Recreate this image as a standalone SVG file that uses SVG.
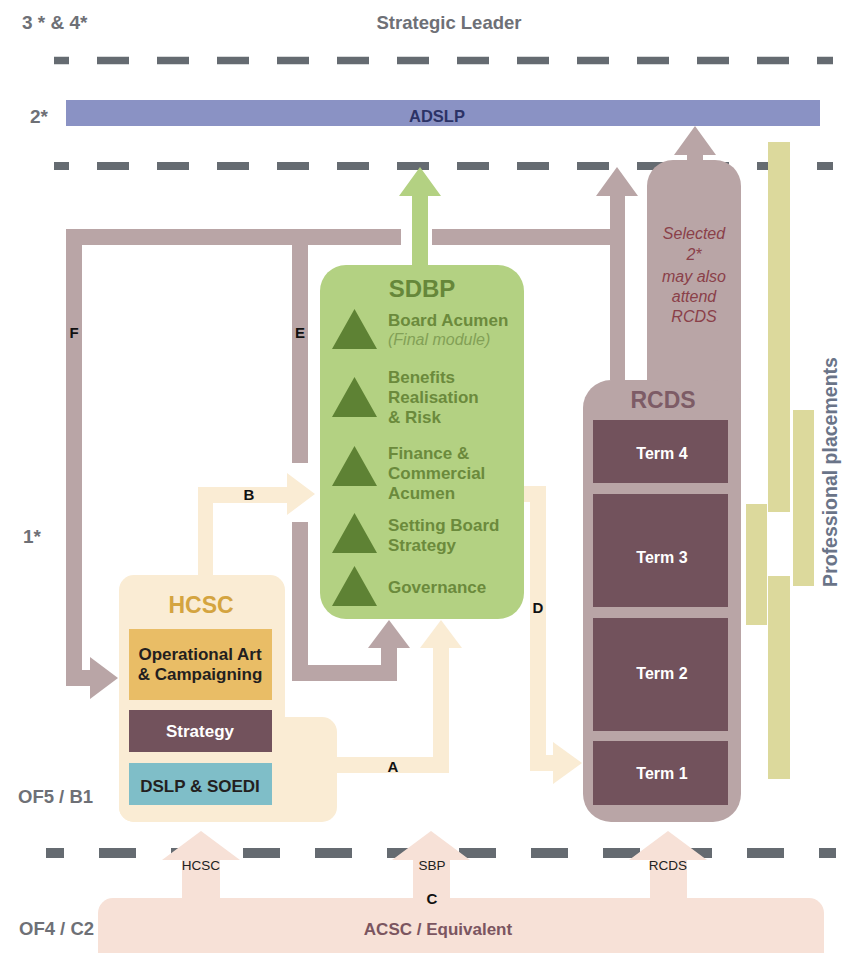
<svg xmlns="http://www.w3.org/2000/svg" width="842" height="953" viewBox="0 0 842 953">
<style>
text{font-family:"Liberation Sans",Arial,sans-serif;}
.b{font-weight:bold;}
.gray{fill:#6e7076;font-weight:bold;}
.dash{fill:none;stroke:#656b71;}
.mv{fill:#b9a5a6;}
.cr{fill:#faecd4;}
.pe{fill:#f7e1d7;}
.gr{fill:#b3d182;}
.tri{fill:#5e8234;}
.sd{fill:#6b8a3c;font-weight:bold;font-size:17px;}
.term{fill:#72525c;}
.tt{fill:#ffffff;font-weight:bold;font-size:16px;text-anchor:middle;}
.yb{fill:#dcd99c;}
.let{fill:#111;font-weight:bold;font-size:15px;text-anchor:middle;}
.bl{fill:#222;font-size:13.5px;text-anchor:middle;}
</style>

<!-- level labels -->
<g id="levels">
<text class="gray" x="22" y="29" font-size="19">3 * &amp; 4*</text>
<text class="gray" x="449" y="29" font-size="18.5" text-anchor="middle">Strategic Leader</text>
<text class="gray" x="30" y="123" font-size="19">2*</text>
<text class="gray" x="23" y="543" font-size="19" fill="#6a7080">1*</text>
<text class="gray" x="18" y="803" font-size="18.5">OF5 / B1</text>
<text class="gray" x="19" y="935" font-size="18.5">OF4 / C2</text>
</g>

<!-- dashed level lines -->
<g id="dividers">
<line class="dash" x1="54" y1="60.5" x2="833" y2="60.5" stroke-width="7.5" stroke-dasharray="32 28" stroke-dashoffset="17"/>
<line class="dash" x1="54" y1="166" x2="833" y2="166" stroke-width="8" stroke-dasharray="32 28" stroke-dashoffset="17"/>
<line class="dash" x1="46" y1="853" x2="836" y2="853" stroke-width="10" stroke-dasharray="37 35" stroke-dashoffset="19"/>
</g>

<g id="ADSLP">
<rect x="66" y="100" width="754" height="26" fill="#8a92c4"/>
<text x="437" y="122" font-size="16.5" class="b" fill="#2c3366" text-anchor="middle">ADSLP</text>
</g>

<g id="placements">
<rect class="yb" x="768" y="142" width="22" height="370"/>
<rect class="yb" x="793" y="410" width="21" height="176"/>
<rect class="yb" x="746" y="504" width="21" height="121"/>
<rect class="yb" x="768" y="576" width="22" height="203"/>
<text transform="translate(837,472) rotate(-90)" font-size="19.5" class="b" fill="#6a7488" text-anchor="middle">Professional placements</text>
</g>

<!-- connectors -->
<g id="connectors">
<!-- mauve network -->
<rect class="mv" x="66" y="229" width="335" height="16"/>
<rect class="mv" x="432" y="229" width="193" height="16"/>
<polygon class="mv" points="66,229 82,229 82,670 90,670 90,657 118,678 90,699 90,686 66,686"/>
<rect class="mv" x="292" y="229" width="16" height="234"/>
<polygon class="mv" points="292,522 308,522 308,665 381,665 381,648 368,648 389,620 410,648 397,648 397,681 292,681"/>
<polygon class="mv" points="610,380 610,196 596,196 617,167 638,196 625,196 625,380"/>
<polygon class="mv" points="687,165 687,155 674,155 695,126 716,155 703,155 703,165"/>
<!-- green to ADSLP -->
<polygon class="gr" points="412,270 412,196 399,196 420,167 441,196 428,196 428,270"/>
<!-- cream arrows -->
<polygon class="cr" points="198,578 198,487 287,487 287,473 315,494 287,515 287,503 213,503 213,578"/>
<polygon class="cr" points="330,757 433,757 433,648 420,648 441,620 462,648 449,648 449,773 330,773"/>
<polygon class="cr" points="518,486 546,486 546,755 553,755 553,742 582,763 553,784 553,771 530,771 530,502 518,502"/>
<!-- peach arrows from ACSC -->
<polygon class="pe" points="182,905 182,860 162,860 201,831 240,860 220,860 220,905"/>
<polygon class="pe" points="413,905 413,860 392,860 431,831 470,860 450,860 450,905"/>
<polygon class="pe" points="650,905 650,860 629,860 668,831 707,860 687,860 687,905"/>
<!-- connector labels -->
<text class="let" x="74" y="338">F</text>
<text class="let" x="300" y="338">E</text>
<text class="let" x="249" y="500">B</text>
<text class="let" x="393" y="772">A</text>
<text class="let" x="538" y="613">D</text>
</g>

<g id="SDBP">
<rect class="gr" x="320" y="265" width="204" height="354" rx="26"/>
<text x="422" y="297" font-size="24" class="b" fill="#66873a" text-anchor="middle">SDBP</text>
<polygon class="tri" points="332,349 354.5,309 377,349"/>
<polygon class="tri" points="332,417 354.5,377 377,417"/>
<polygon class="tri" points="332,486 354.5,446 377,486"/>
<polygon class="tri" points="332,553 354.5,513 377,553"/>
<polygon class="tri" points="332,606 354.5,566 377,606"/>
<text class="sd" x="388" y="326">Board Acumen</text>
<text x="388" y="345" font-size="16" font-style="italic" fill="#82a056">(Final module)</text>
<text class="sd" x="388" y="383">Benefits</text>
<text class="sd" x="388" y="403">Realisation</text>
<text class="sd" x="388" y="423">&amp; Risk</text>
<text class="sd" x="388" y="459">Finance &amp;</text>
<text class="sd" x="388" y="479">Commercial</text>
<text class="sd" x="388" y="499">Acumen</text>
<text class="sd" x="388" y="531">Setting Board</text>
<text class="sd" x="388" y="551">Strategy</text>
<text class="sd" x="388" y="593">Governance</text>
</g>

<g id="HCSC">
<rect class="cr" x="119" y="575" width="166" height="247" rx="15"/>
<rect class="cr" x="119" y="717" width="218" height="105" rx="15"/>
<text x="201" y="613" font-size="23" class="b" fill="#d4a440" text-anchor="middle">HCSC</text>
<rect x="129" y="629" width="143" height="71" fill="#e9bd66"/>
<text x="200" y="660" font-size="17" class="b" fill="#231f20" text-anchor="middle">Operational Art</text>
<text x="200" y="680" font-size="17" class="b" fill="#231f20" text-anchor="middle">&amp; Campaigning</text>
<rect x="129" y="710" width="143" height="42" fill="#72525c"/>
<text x="200" y="737" font-size="17" class="b" fill="#ffffff" text-anchor="middle">Strategy</text>
<rect x="129" y="763" width="143" height="42" fill="#7fbec8"/>
<text x="200" y="792" font-size="17" class="b" fill="#231f20" text-anchor="middle">DSLP &amp; SOEDI</text>
</g>

<g id="RCDS">
<rect class="mv" x="647" y="160" width="94" height="320" rx="26"/>
<rect class="mv" x="583" y="380" width="158" height="442" rx="28"/>
<g font-size="16" font-style="italic" fill="#8a4049" text-anchor="middle">
<text x="694" y="239">Selected</text>
<text x="694" y="260">2*</text>
<text x="694" y="282">may also</text>
<text x="694" y="302">attend</text>
<text x="694" y="322">RCDS</text>
</g>
<text x="663" y="408" font-size="23" class="b" fill="#7d5c66" text-anchor="middle">RCDS</text>
<rect class="term" x="593" y="420" width="135" height="63"/>
<rect class="term" x="593" y="494" width="135" height="113"/>
<rect class="term" x="593" y="618" width="135" height="113"/>
<rect class="term" x="593" y="741" width="135" height="64"/>
<text class="tt" x="662" y="459">Term 4</text>
<text class="tt" x="662" y="563">Term 3</text>
<text class="tt" x="662" y="679">Term 2</text>
<text class="tt" x="662" y="779">Term 1</text>
</g>

<g id="ACSC">
<rect class="pe" x="98" y="898" width="726" height="70" rx="15"/>
<text x="438" y="935" font-size="17" class="b" fill="#7b5560" text-anchor="middle">ACSC / Equivalent</text>
<text class="let" x="432" y="904">C</text>
<text class="bl" x="201" y="870">HCSC</text>
<text class="bl" x="432" y="870">SBP</text>
<text class="bl" x="668" y="870">RCDS</text>
</g>
</svg>
